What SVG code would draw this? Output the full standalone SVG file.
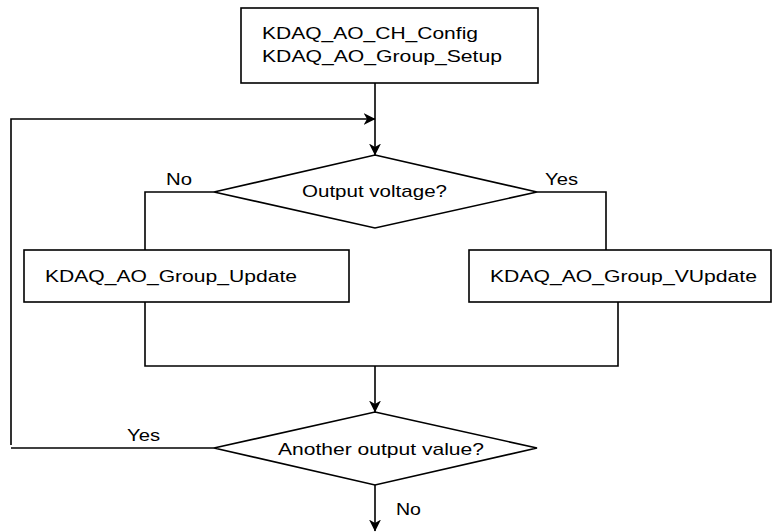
<svg xmlns="http://www.w3.org/2000/svg" width="772" height="532" viewBox="0 0 772 532">
<style>
.box{fill:#fff;stroke:#000;stroke-width:1.6}
.ln{fill:none;stroke:#000;stroke-width:1.6}
.t{font-family:"Liberation Sans",Arial,sans-serif;font-size:17px;fill:#000}
</style>
<defs>
<marker id="ah" viewBox="0 0 12 12" refX="11.5" refY="6" markerWidth="12" markerHeight="12" markerUnits="userSpaceOnUse" orient="auto">
<path d="M0,0 L12,6 L0,12 L3.5,6 Z" fill="#000"/>
</marker>
</defs>
<rect width="772" height="532" fill="#fff"/>
<g id="connectors">
<path class="ln" d="M375,83 V155" marker-end="url(#ah)"/>
<path class="ln" d="M11,445 V119 H375" marker-end="url(#ah)"/>
<path class="ln" d="M214,192 H145 V250"/>
<path class="ln" d="M537,192 H606 V250"/>
<path class="ln" d="M145,302 V366 H618 V302"/>
<path class="ln" d="M375,366 V412" marker-end="url(#ah)"/>
<path class="ln" d="M214,448 H11"/>
<path class="ln" d="M375,485 V531" marker-end="url(#ah)"/>
<text class="t" x="166" y="185" textLength="26" lengthAdjust="spacingAndGlyphs">No</text>
<text class="t" x="545" y="185" textLength="33" lengthAdjust="spacingAndGlyphs">Yes</text>
<text class="t" x="127" y="441" textLength="33" lengthAdjust="spacingAndGlyphs">Yes</text>
<text class="t" x="396" y="515" textLength="25" lengthAdjust="spacingAndGlyphs">No</text>
</g>
<g id="setup">
<rect class="box" x="241" y="8" width="297" height="75"/>
<text class="t" x="262" y="39" textLength="216" lengthAdjust="spacingAndGlyphs">KDAQ_AO_CH_Config</text>
<text class="t" x="262" y="62" textLength="240" lengthAdjust="spacingAndGlyphs">KDAQ_AO_Group_Setup</text>
</g>
<g id="decision1">
<polygon class="box" points="375,155 537,192 375,228 214,192"/>
<text class="t" x="302" y="197" textLength="145" lengthAdjust="spacingAndGlyphs">Output voltage?</text>
</g>
<g id="update">
<rect class="box" x="24" y="250" width="325" height="52"/>
<text class="t" x="45" y="282" textLength="252" lengthAdjust="spacingAndGlyphs">KDAQ_AO_Group_Update</text>
</g>
<g id="vupdate">
<rect class="box" x="469" y="250" width="302" height="52"/>
<text class="t" x="490" y="282" textLength="267" lengthAdjust="spacingAndGlyphs">KDAQ_AO_Group_VUpdate</text>
</g>
<g id="decision2">
<polygon class="box" points="375,412 537,448 375,485 214,448"/>
<text class="t" x="278" y="455" textLength="206" lengthAdjust="spacingAndGlyphs">Another output value?</text>
</g>
</svg>
